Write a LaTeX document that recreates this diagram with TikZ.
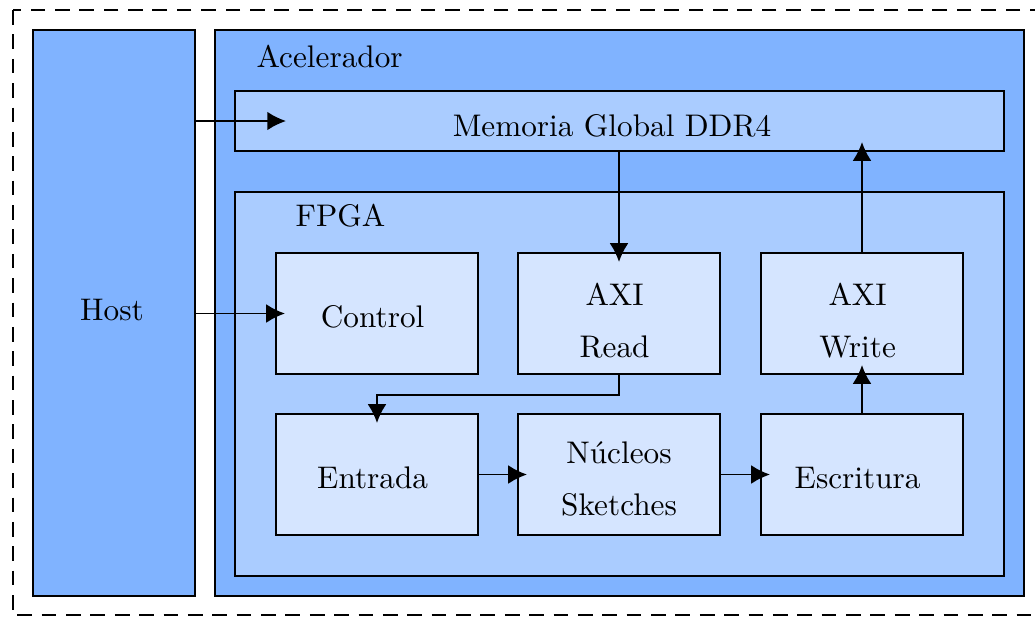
\documentclass[tikz,border=0pt]{standalone}
\usetikzlibrary{arrows.meta}
\definecolor{hostblue}{HTML}{80B3FF}
\definecolor{midblue}{HTML}{AACCFF}
\definecolor{lightblue}{HTML}{D5E5FF}
\newcommand{\lowstrut}{\rule{0pt}{11.6pt}}
\newcommand{\lsh}{\hspace*{2.8pt}}
\begin{document}
\begin{tikzpicture}[x=0.32pt,y=-0.32pt,
  box/.style={draw=black,line width=0.65pt,rectangle,inner sep=0pt},
  bigbox/.style={box,fill=hostblue},
  midbox/.style={box,fill=midblue},
  inbox/.style={box,fill=lightblue,minimum width=64.64pt,minimum height=38.72pt,align=center},
  oneline/.style={inbox,text height=8.7pt,text depth=0pt},
  lbl/.style={inner sep=0pt,anchor=base west},
  conn/.style={line width=0.6pt,-{Latex[length=6pt,width=6pt]},shorten >=-3.2pt}
]
\useasboundingbox (0,0) rectangle (1035,616);
\draw[line width=0.7pt,dash pattern=on 4.7pt off 3.1pt] (13,10) rectangle (1045,615);

\node[bigbox,minimum width=51.84pt,minimum height=181.12pt] (Host) at (114,313) {};
\node at (112,310) (HostText) {Host};
\node[bigbox,minimum width=258.88pt,minimum height=181.12pt] (Acel) at (619.5,313) {};
\node[lbl] (AcelText) at (256,67) {Acelerador};
\node[midbox,minimum width=246.08pt,minimum height=19.2pt] (Mem) at (619.5,121) {};
\node (MemText) at (612,126) {Memoria Global DDR4};
\node[midbox,minimum width=246.08pt,minimum height=122.88pt] (FPGA) at (619.5,384) {};
\node[lbl] (FPGAText) at (295,226) {FPGA};

\node[oneline] (Control) at (377,313.5) {Control\lsh};
\node[inbox] (AXIR) at (619,313.5) {\lowstrut AXI\lsh\\[4.6pt]Read\lsh};
\node[inbox] (AXIW) at (862,313.5) {\lowstrut AXI\lsh\\[4.6pt]Write\lsh};
\node[oneline] (Entrada) at (377,474.5) {Entrada\lsh};
\node[inbox] (Nucleos) at (619,474.5) {\rule{0pt}{9.6pt}Núcleos\\[4.6pt]Sketches};
\node[oneline] (Escritura) at (862,474.5) {Escritura\lsh};

\coordinate (memtip) at (286,121);
\draw[conn,shorten >=0pt] (Host.east |- memtip) -- (memtip);
\draw[conn] (Host.east |- Control.west) -- (Control.west);
\draw[conn] (Mem.south -| AXIR.north) -- (AXIR.north);
\draw[conn] (AXIR.south) -- ++(0,20) -| (Entrada.north);
\draw[conn] (Entrada.east) -- (Nucleos.west);
\draw[conn] (Nucleos.east) -- (Escritura.west);
\draw[conn] (Escritura.north) -- (AXIW.south);
\draw[conn] (AXIW.north) -- (AXIW.north |- Mem.south);
\end{tikzpicture}
\end{document}
